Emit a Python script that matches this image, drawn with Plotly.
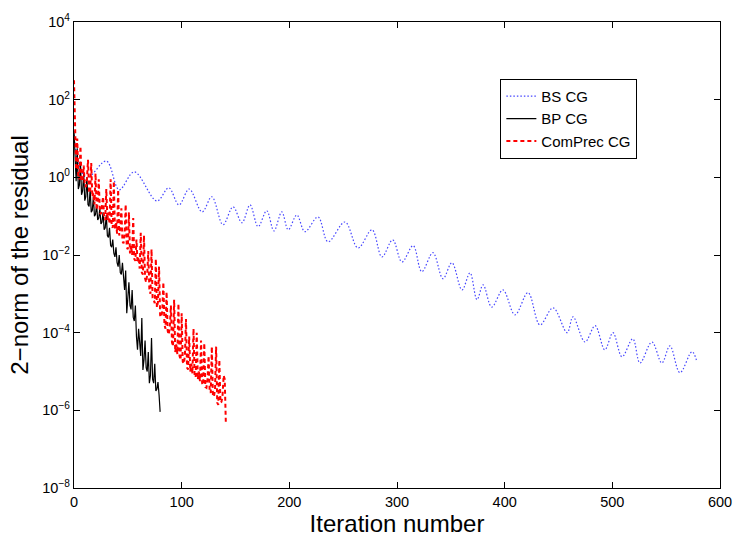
import plotly.graph_objects as go

# ---------------- data ----------------
# BS CG: iteration numbers and log10(residual) at the turning points of the oscillation
bs_iter = [0, 4, 12, 30, 42, 56, 77, 88, 97.5, 107, 119, 128, 138.4, 147.7, 156, 163.5,
           171, 179, 185.7, 193, 199, 207, 214.5, 226.6, 236, 251.7, 263.8, 276.8, 286,
           296, 304.6, 315, 323, 333.4, 342.7, 351, 360.4, 367.8, 374.3, 380, 388, 398.4,
           409.6, 421.7, 432.8, 445, 458, 463.5, 474.6, 484, 493, 500.6, 509, 519, 525.7,
           536.8, 546, 553.5, 562.8, 574, 578.6]
bs_log10 = [1.09, 0.4, -0.02, 0.42, -0.32, 0.14, -0.61, -0.27, -0.71, -0.30, -0.89, -0.50,
            -1.22, -0.76, -1.17, -0.71, -1.27, -0.86, -1.38, -0.89, -1.35, -0.97, -1.40,
            -1.02, -1.66, -1.15, -1.82, -1.35, -2.05, -1.61, -2.18, -1.76, -2.43, -1.94,
            -2.61, -2.20, -2.90, -2.46, -3.15, -2.77, -3.34, -2.90, -3.54, -2.97, -3.80,
            -3.36, -4.00, -3.59, -4.24, -3.82, -4.44, -4.00, -4.62, -4.16, -4.78, -4.24,
            -4.78, -4.34, -5.03, -4.49, -4.75]

# BP CG: log10(residual) for iterations 0..80
bp_log10 = [1.2, 0.7, -0.1, 0.75, -0.3, -0.2, 0.4, -0.45, -0.35, 0.1,
            -0.6, -0.5, 0.0, -0.7, -0.75, -0.3, -0.9, -0.85, -0.5, -1.0,
            -0.95, -0.7, -1.1, -1.05, -0.8, -1.2, -1.15, -0.9, -1.35, -1.3,
            -0.97, -1.5, -1.55, -1.3, -1.75, -1.8, -1.6, -1.95, -2.05, -1.8,
            -2.2, -2.3, -2.0, -2.45, -2.5, -2.2, -2.7, -2.9, -2.4, -3.5,
            -3.1, -2.7, -3.3, -3.4, -2.9, -3.6, -3.7, -3.3, -4.1, -4.44,
            -3.9, -4.4, -4.6, -3.62, -4.96, -4.7, -4.2, -4.9, -5.0, -4.5,
            -5.3, -5.1, -4.14, -5.2, -5.3, -4.8, -5.5, -5.45, -5.27, -5.6,
            -6.04]

# ComPrec CG: log10(residual) for iterations 0..141
cp_log10 = [2.5, 1.4, 0.2, 1.0, 0.0, -0.05, 0.8, -0.06, -0.1, 0.3,
            -0.2, -0.25, -0.05, 0.45, -0.35, -0.4, 0.37, -0.5, -0.4, -0.7,
            0.1, -0.84, -0.65, -0.05, -0.9, -0.95, -0.75, -0.5, -1.05, -1.1,
            -0.3, -1.1, -0.9, -1.2, -0.05, -1.25, -1.3, -0.1, -1.35, -1.15,
            -1.45, -0.32, -1.5, -1.3, -0.8, -1.65, -1.7, -1.45, -0.7, -1.8,
            -1.85, -0.9, -1.96, -1.75, -2.0, -1.05, -2.1, -2.15, -1.6, -2.2,
            -2.05, -2.35, -1.43, -2.45, -2.5, -1.5, -2.6, -2.7, -2.5, -1.9,
            -2.9, -3.0, -1.85, -3.1, -3.15, -3.24, -2.1, -3.35, -3.2, -2.3,
            -3.55, -3.6, -3.45, -2.7, -3.8, -3.9, -2.95, -3.95, -4.05, -3.85,
            -3.3, -4.25, -4.35, -3.15, -4.5, -4.3, -4.55, -3.25, -4.6, -4.7,
            -3.5, -4.75, -4.8, -4.6, -3.65, -4.9, -4.95, -4.1, -5.0, -4.8,
            -5.05, -3.9, -5.1, -5.15, -4.0, -5.2, -5.0, -5.25, -4.2, -5.3,
            -5.35, -4.27, -5.4, -5.42, -5.2, -4.6, -5.5, -5.55, -4.36, -5.6,
            -5.65, -5.45, -4.36, -5.8, -5.86, -4.7, -5.8, -5.78, -5.6, -5.1,
            -5.2, -6.3]

series_names = ["BS CG", "BP CG", "ComPrec CG"]
x_ticks = [0, 100, 200, 300, 400, 500, 600]
y_tick_exp = [-8, -6, -4, -2, 0, 2, 4]

# ---------------- figure ----------------
bp_iter = list(range(len(bp_log10)))
cp_iter = list(range(len(cp_log10)))

fig = go.Figure()
fig.add_trace(go.Scatter(
    x=bs_iter, y=[10 ** v for v in bs_log10], mode="lines", name=series_names[0],
    line=dict(color="rgb(70,70,255)", width=1.2, dash="1.5px,2px", shape="spline", smoothing=1.0)))
fig.add_trace(go.Scatter(
    x=bp_iter, y=[10 ** v for v in bp_log10], mode="lines", name=series_names[1],
    line=dict(color="black", width=1.2)))
fig.add_trace(go.Scatter(
    x=cp_iter, y=[10 ** v for v in cp_log10], mode="lines", name=series_names[2],
    line=dict(color="red", width=2, dash="4px,3px")))

font_family = "Liberation Sans, Arial, Helvetica, sans-serif"
fig.update_layout(
    width=736, height=538,
    margin=dict(l=74, r=16, t=22, b=50, autoexpand=False),
    paper_bgcolor="white", plot_bgcolor="white",
    font=dict(family=font_family, color="black", size=15),
    legend=dict(x=0.66, y=0.878, xanchor="left", yanchor="top",
                bordercolor="black", borderwidth=1, bgcolor="white",
                font=dict(size=15), tracegroupgap=0),
    showlegend=True,
)
fig.update_xaxes(
    range=[0, 600], tickvals=x_ticks, ticks="inside", ticklen=6, tickwidth=1,
    tickcolor="black", showline=True, linecolor="black", linewidth=1.3,
    mirror="allticks", showgrid=False, zeroline=False, tickfont=dict(size=14.5),
    title=dict(text="Iteration number", font=dict(size=24), standoff=0),
    automargin=False,
)
fig.update_yaxes(
    type="log", range=[-8, 4], tickvals=[10 ** e for e in y_tick_exp],
    ticktext=[f"10<sup>{e}</sup>".replace("-", "\u2212") for e in y_tick_exp],
    ticks="inside", ticklen=6, tickwidth=1, tickcolor="black",
    showline=True, linecolor="black", linewidth=1.3, mirror="allticks",
    showgrid=False, zeroline=False, tickfont=dict(size=14.5),
    title=dict(text="2\u2212norm of the residual", font=dict(size=24), standoff=6),
    automargin=False,
)

fig.write_html(
    "out.html",
    config={"displayModeBar": False},
    post_script="document.body.style.margin='0';document.body.style.overflow='hidden';",
)
